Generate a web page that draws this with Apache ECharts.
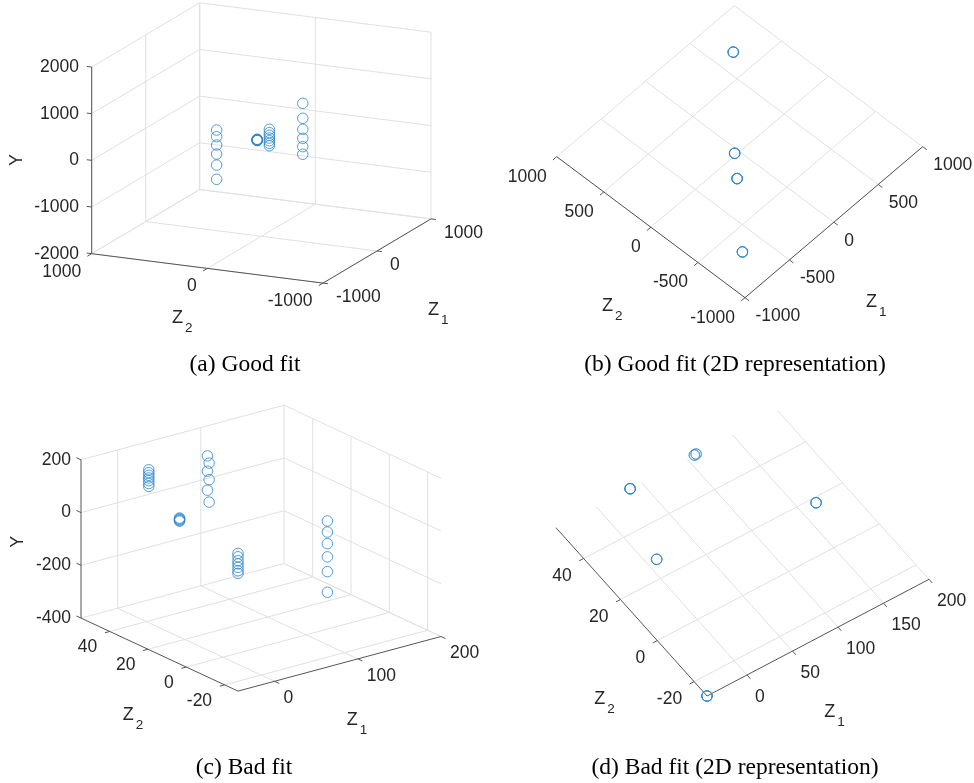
<!DOCTYPE html>
<html>
<head>
<meta charset="utf-8">
<script src="https://cdn.jsdelivr.net/npm/echarts@6.0.0/dist/echarts.min.js"></script>
<style>
  html, body { margin: 0; padding: 0; background: #fff; }
  #main { width: 974px; height: 783px; }
</style>
</head>
<body>
<div id="main"></div>
<script>
// good fit: four clusters (Z1, Z2, Y)
const goodZ1 = [667, 667, 667, 667, 667, 667,
  -38, -36, -40, -38, -37, -39,
  -203, -203, -203, -203, -203, -203, -203,
  -691, -691, -691, -691, -691, -691];
const goodZ2 = [698, 698, 698, 698, 698, 698,
  18, 18, 18, 18, 18, 18,
  -164, -164, -164, -164, -164, -164, -164,
  -681, -681, -681, -681, -681, -681];
const goodY = [-402, -545, -723, -916, -1152, -1458,
  70, 76, 82, 88, 94, 100,
  483, 411, 355, 297, 238, 182, 132,
  1539, 1218, 982, 790, 610, 447];

// bad fit: five clusters
const badZ1 = [108, 110, 108, 110, 108, 110,
  37.5, 37.5, 37.5, 37.5, 37.5, 37.5, 37.5,
  10, 10, 10, 10, 10,
  167, 167, 167, 167, 167, 167,
  -44, -44, -44, -44, -44, -44, -44];
const badZ2 = [55, 55, 55, 55, 55, 55,
  55, 55, 55, 55, 55, 55, 55,
  27, 27, 27, 27, 27,
  18, 18, 18, 18, 18, 18,
  -27, -27, -27, -27, -27, -27, -27];
const badY = [86, 57, 28, -6, -44, -91,
  93, 82, 72, 62, 52, 41, 30,
  28, 25, 22, 19, 16,
  -86, -128, -172, -222, -278, -356,
  122, 109, 94, 82, 69, 56, 46];

// tick values
const goodTicksZ = [-1000, 0, 1000];
const goodTicksY = [-2000, -1000, 0, 1000, 2000];
const goodTicks2D = [-1000, -500, 0, 500, 1000];
const badTicksZ1 = [0, 100, 200];
const badTicksZ2 = [-20, 0, 20, 40];
const badTicksY = [-400, -200, 0, 200];
const badTicks2DZ1 = [0, 50, 100, 150, 200];

const captions = ['(a) Good fit', '(b) Good fit (2D representation)', '(c) Bad fit', '(d) Bad fit (2D representation)'];

// views: screen corners of the floor box (F = min/min, R = Z1 max, L = Z2 max), h = height of Y range
const views = {
  a: { F: [323, 283.1], R: [431, 218.9], L: [91.7, 253.7], h: 186.7, z1: [-1000, 1000], z2: [-1000, 1000], y: [-2000, 2000],
       off: { y: [-12.7, 0], z2: [-10.5, 18], z1: [13, 14] } },
  b: { F: [745, 297.7], R: [922.7, 146.7], L: [556.7, 156.7], h: 0, z1: [-1000, 1000], z2: [-1000, 1000], y: [-2000, 2000],
       off: { z2: [-10, 20], z1: [10.5, 18.5] } },
  c: { F: [238, 691.1], R: [441, 636.5], L: [81, 618.1], h: 158.3, z1: [-44, 200], z2: [-27, 55], y: [-400, 200],
       off: { y: [-10, 0], z2: [-12.5, 16], z1: [9, 17] } },
  d: { F: [707, 696], R: [929, 579.3], L: [556, 527.7], h: 0, z1: [-44, 200], z2: [-27, 55], y: [-400, 200],
       off: { z2: [-12, 18], z1: [8, 22] } }
};

function project(v, p1, p2, py) {
  const u = (p1 - v.z1[0]) / (v.z1[1] - v.z1[0]);
  const w = (p2 - v.z2[0]) / (v.z2[1] - v.z2[0]);
  const t = (py - v.y[0]) / (v.y[1] - v.y[0]);
  return [
    v.F[0] + u * (v.R[0] - v.F[0]) + w * (v.L[0] - v.F[0]),
    v.F[1] + u * (v.R[1] - v.F[1]) + w * (v.L[1] - v.F[1]) - t * v.h
  ];
}

function unit(a, b, len) {
  const dx = b[0] - a[0], dy = b[1] - a[1];
  const n = Math.sqrt(dx * dx + dy * dy);
  return [dx / n * len, dy / n * len];
}

const gridSegs = [];
const axisSegs = [];
const texts = [];
const TICK_FONT = '17.5px "Liberation Sans", Arial, sans-serif';

function seg(list, v, a, b) {
  list.push(project(v, a[0], a[1], a[2]).concat(project(v, b[0], b[1], b[2])));
}

function buildAxes(v, t1, t2, ty, is3d) {
  const [a0, a1] = v.z1, [b0, b1] = v.z2, [c0, c1] = v.y;
  // floor grid
  t1.forEach(t => seg(gridSegs, v, [t, b0, c0], [t, b1, c0]));
  t2.forEach(t => seg(gridSegs, v, [a0, t, c0], [a1, t, c0]));
  if (is3d) {
    // back wall Z2 = max
    t1.forEach(t => seg(gridSegs, v, [t, b1, c0], [t, b1, c1]));
    ty.forEach(t => seg(gridSegs, v, [a0, b1, t], [a1, b1, t]));
    // back wall Z1 = max
    t2.forEach(t => seg(gridSegs, v, [a1, t, c0], [a1, t, c1]));
    ty.forEach(t => seg(gridSegs, v, [a1, b0, t], [a1, b1, t]));
  }
  // axis lines
  seg(axisSegs, v, [a0, b0, c0], [a1, b0, c0]);
  seg(axisSegs, v, [a0, b0, c0], [a0, b1, c0]);
  if (is3d) seg(axisSegs, v, [a0, b1, c0], [a0, b1, c1]);

  const outZ1 = unit(v.L, v.F, 5);  // -Z2 direction
  const outZ2 = unit(v.R, v.F, 5);  // -Z1 direction
  const outY = unit(v.F, v.L, 5);   // +Z2 direction
  t1.forEach(t => {
    const p = project(v, t, b0, c0);
    axisSegs.push([p[0], p[1], p[0] + outZ1[0], p[1] + outZ1[1]]);
    texts.push({ x: p[0] + v.off.z1[0], y: p[1] + v.off.z1[1], text: String(t), align: 'left', font: TICK_FONT });
  });
  t2.forEach(t => {
    const p = project(v, a0, t, c0);
    axisSegs.push([p[0], p[1], p[0] + outZ2[0], p[1] + outZ2[1]]);
    texts.push({ x: p[0] + v.off.z2[0], y: p[1] + v.off.z2[1], text: String(t), align: 'right', font: TICK_FONT });
  });
  if (is3d) {
    ty.forEach(t => {
      const p = project(v, a0, b1, t);
      axisSegs.push([p[0], p[1], p[0] + outY[0], p[1] + outY[1]]);
      texts.push({ x: p[0] + v.off.y[0], y: p[1] + v.off.y[1], text: String(t), align: 'right', font: TICK_FONT });
    });
  }
}

buildAxes(views.a, goodTicksZ, goodTicksZ, goodTicksY, true);
buildAxes(views.b, goodTicks2D, goodTicks2D, [], false);
buildAxes(views.c, badTicksZ1, badTicksZ2, badTicksY, true);
buildAxes(views.d, badTicks2DZ1, badTicksZ2, [], false);

// axis names
const NAME_FONT = '18px "Liberation Sans", Arial, sans-serif';
const SUB_FONT = '13.5px "Liberation Sans", Arial, sans-serif';
function zName(x, y, sub) {
  texts.push({ x: x, y: y, text: 'Z', align: 'left', font: NAME_FONT });
  texts.push({ x: x + 13, y: y + 10, text: sub, align: 'left', font: SUB_FONT });
}
texts.push({ x: 17, y: 160, text: 'Y', align: 'center', font: NAME_FONT, rot: Math.PI / 2 });
zName(172, 318, '2'); zName(428, 310, '1');
zName(602, 306, '2'); zName(866, 302, '1');
texts.push({ x: 18.3, y: 541.7, text: 'Y', align: 'center', font: NAME_FONT, rot: Math.PI / 2 });
zName(122.7, 715, '2'); zName(346.7, 720, '1');
zName(594.3, 699, '2'); zName(824.3, 712.3, '1');

// captions
const CAP_FONT = '23.5px "Liberation Serif", "Times New Roman", serif';
[[245, 365], [735, 365], [244, 768], [735, 768]].forEach((p, i) => {
  texts.push({ x: p[0], y: p[1], text: captions[i], align: 'center', font: CAP_FONT, fill: '#000' });
});

function points(v, z1, z2, y) {
  return z1.map((d, i) => project(v, d, z2[i], y[i]));
}

function lineSeries(data, color, width) {
  return {
    type: 'custom',
    silent: true,
    clip: false,
    data: data,
    encode: { x: [0, 2], y: [1, 3] },
    renderItem: function (params, api) {
      const p1 = api.coord([api.value(0), api.value(1)]);
      const p2 = api.coord([api.value(2), api.value(3)]);
      return {
        type: 'line',
        shape: { x1: p1[0], y1: p1[1], x2: p2[0], y2: p2[1] },
        style: { stroke: color, lineWidth: width }
      };
    }
  };
}

// in the top views every cluster stacks on one spot, so a thinner stroke keeps it light
function scatterSeries(data, width) {
  return {
    type: 'scatter',
    silent: true,
    data: data,
    symbol: 'circle',
    symbolSize: 10.5,
    itemStyle: { color: 'rgba(0,0,0,0)', borderColor: '#2a84cc', borderWidth: width }
  };
}

let myChart = echarts.init(document.getElementById('main'));
myChart.setOption({
  animation: false,
  grid: { left: 0, top: 0, right: 0, bottom: 0 },
  xAxis: { type: 'value', min: 0, max: 974, show: false },
  yAxis: { type: 'value', min: 0, max: 783, inverse: true, show: false },
  series: [
    lineSeries(gridSegs, '#e0e0e0', 1),
    lineSeries(axisSegs, '#555555', 1),
    scatterSeries(points(views.a, goodZ1, goodZ2, goodY), 1),
    scatterSeries(points(views.b, goodZ1, goodZ2, goodY), 0.55),
    scatterSeries(points(views.c, badZ1, badZ2, badY), 1),
    scatterSeries(points(views.d, badZ1, badZ2, badY), 0.55),
    {
      type: 'custom',
      silent: true,
      clip: false,
      data: texts.map((t, i) => [t.x, t.y, i]),
      encode: { x: 0, y: 1 },
      renderItem: function (params, api) {
        const t = texts[api.value(2)];
        const p = api.coord([api.value(0), api.value(1)]);
        return {
          type: 'text',
          x: p[0],
          y: p[1],
          rotation: t.rot || 0,
          style: {
            text: t.text,
            font: t.font,
            fill: t.fill || '#262626',
            align: t.align,
            verticalAlign: 'middle'
          }
        };
      }
    }
  ]
});
</script>
</body>
</html>
